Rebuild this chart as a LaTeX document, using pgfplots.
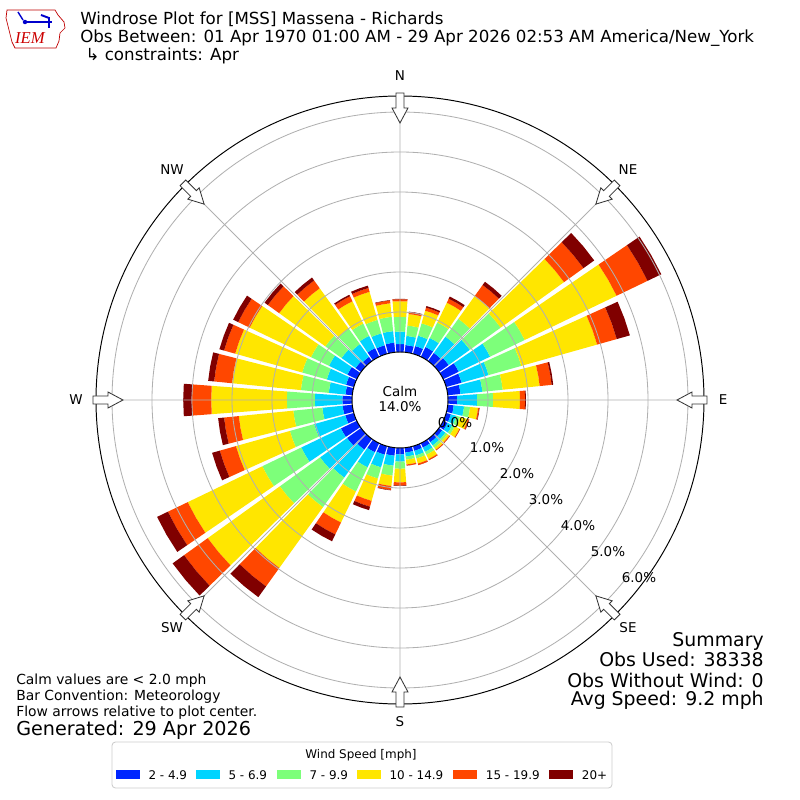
\documentclass[border=0pt]{standalone}
\usepackage{pgfplots}
\pgfplotsset{compat=1.18}
\usepgfplotslibrary{polar}
\usepackage{fontspec}
\setmainfont{DejaVu Sans}
\newfontfamily\logofont{Liberation Serif}
\definecolor{c1}{RGB}{0,38,255}
\definecolor{c2}{RGB}{0,212,255}
\definecolor{c3}{RGB}{125,255,122}
\definecolor{c4}{RGB}{255,230,0}
\definecolor{c5}{RGB}{255,71,0}
\definecolor{c6}{RGB}{128,0,0}
\definecolor{gridgray}{RGB}{176,176,176}
\newcommand\windseg[4]{%
  \pgfmathsetmacro\aA{90-#1+4.3}%
  \pgfmathsetmacro\aM{90-#1}%
  \pgfmathsetmacro\aB{90-#1-4.3}%
  \pgfmathsetmacro\rA{#2+1.2}%
  \pgfmathsetmacro\rB{#3+1.2}%
  \edef\windtmp{\noexpand\addplot[fill=#4,draw=none,forget plot] coordinates {(\aA,\rA) (\aM,\rA) (\aB,\rA) (\aB,\rB) (\aM,\rB) (\aA,\rB)};}%
  \windtmp}
\newcommand\windbar[7]{%
  \windseg{#1}{0}{#2}{c1}%
  \windseg{#1}{#2}{#3}{c2}%
  \windseg{#1}{#3}{#4}{c3}%
  \windseg{#1}{#4}{#5}{c4}%
  \windseg{#1}{#5}{#6}{c5}%
  \windseg{#1}{#6}{#7}{c6}}
\begin{document}
\begin{tikzpicture}
\useasboundingbox (0,0) rectangle (576pt,576pt);
\begin{polaraxis}[
  at={(288pt,288pt)}, anchor=center,
  scale only axis, width=437.76pt, height=437.76pt,
  ymin=0, ymax=7.6,
  xtick={0,45,...,315}, xticklabels={},
  ytick={2.2,3.2,4.2,5.2,6.2,7.2}, yticklabels={},
  grid=major,
  major grid style={draw=gridgray, line width=0.6pt},
  x axis line style={black, line width=0.7pt},
  y axis line style={draw=none},
  tick style={draw=none},
  axis on top,
]
% dir, cumulative % : 2-4.9, 5-6.9, 7-9.9, 10-14.9, 15-19.9, 20+
\windbar{0}{0.20}{0.51}{0.88}{1.27}{1.32}{1.33}
\windbar{10}{0.18}{0.41}{0.67}{0.96}{1.01}{1.02}
\windbar{20}{0.20}{0.47}{0.79}{1.12}{1.20}{1.24}
\windbar{30}{0.27}{0.52}{0.95}{1.50}{1.61}{1.67}
\windbar{40}{0.25}{0.75}{1.30}{2.00}{2.34}{2.44}
\windbar{50}{0.30}{0.95}{1.90}{3.85}{4.45}{4.78}
\windbar{60}{0.43}{1.30}{2.26}{4.81}{5.67}{6.05}
\windbar{70}{0.40}{1.10}{1.95}{3.92}{4.43}{4.77}
\windbar{80}{0.32}{0.87}{1.38}{2.31}{2.61}{2.65}
\windbar{90}{0.23}{0.73}{1.13}{1.80}{1.93}{1.95}
\windbar{100}{0.15}{0.41}{0.56}{0.76}{0.79}{0.80}
\windbar{110}{0.12}{0.26}{0.36}{0.56}{0.59}{0.60}
\windbar{120}{0.12}{0.25}{0.32}{0.45}{0.47}{0.47}
\windbar{130}{0.10}{0.20}{0.26}{0.32}{0.34}{0.34}
\windbar{140}{0.10}{0.20}{0.27}{0.33}{0.35}{0.35}
\windbar{150}{0.12}{0.24}{0.32}{0.44}{0.47}{0.47}
\windbar{160}{0.12}{0.24}{0.32}{0.45}{0.49}{0.49}
\windbar{170}{0.12}{0.22}{0.30}{0.42}{0.45}{0.45}
\windbar{180}{0.16}{0.34}{0.52}{0.86}{0.94}{0.95}
\windbar{190}{0.20}{0.45}{0.70}{0.96}{1.06}{1.07}
\windbar{200}{0.22}{0.55}{0.84}{1.42}{1.57}{1.66}
\windbar{210}{0.25}{0.67}{1.34}{2.20}{2.53}{2.72}
\windbar{220}{0.33}{1.19}{2.10}{3.97}{4.54}{4.87}
\windbar{230}{0.43}{1.26}{2.50}{4.72}{5.45}{5.80}
\windbar{240}{0.44}{1.54}{2.62}{4.69}{5.24}{5.54}
\windbar{250}{0.22}{1.03}{1.66}{3.06}{3.48}{3.68}
\windbar{260}{0.24}{0.75}{1.48}{2.85}{3.22}{3.37}
\windbar{270}{0.24}{0.93}{1.63}{3.52}{4.01}{4.22}
\windbar{280}{0.17}{0.59}{1.29}{3.02}{3.47}{3.62}
\windbar{290}{0.20}{0.70}{1.34}{3.08}{3.37}{3.49}
\windbar{300}{0.26}{0.77}{1.27}{2.97}{3.29}{3.43}
\windbar{310}{0.17}{0.60}{1.10}{2.52}{2.87}{2.97}
\windbar{320}{0.13}{0.52}{1.00}{2.24}{2.48}{2.57}
\windbar{330}{0.24}{0.58}{0.92}{1.54}{1.68}{1.72}
\windbar{340}{0.22}{0.53}{0.88}{1.61}{1.71}{1.77}
\windbar{350}{0.24}{0.53}{0.89}{1.23}{1.30}{1.31}
\end{polaraxis}
% direction arrows
\foreach \t in {0,45,...,315}{
  \begin{scope}[shift={(288pt,288pt)}, rotate=-\t, x=0.72pt, y=0.72pt]
    \draw[fill=white, draw=black!80, line width=0.6pt]
      (-4,307) -- (4,307) -- (4,292) -- (8,292) -- (0,277) -- (-8,292) -- (-4,292) -- cycle;
  \end{scope}
}
\begin{scope}[x=0.72pt,y=-0.72pt,yshift=576pt]
  % calm circle
  \draw[black, line width=0.7pt, fill=white] (400,400) circle[radius=34.56pt];
  \node[font=\fontsize{9.7}{12}\selectfont] at (400,391) {Calm};
  \node[font=\fontsize{9.7}{12}\selectfont] at (400,407) {14.0\%};
  % radial labels
  \foreach \p/\xx/\yy in {0/455/423,1/487/448,2/517/474,3/546/500,4/578/526,5/608/552,6/639/578}{
    \node[font=\fontsize{9.7}{12}\selectfont] at (\xx,\yy) {\p.0\%};
  }
  % compass labels
  \foreach \lab/\xx/\yy in {N/400/76,NE/628/170,E/723/400,SE/628/628,S/400/722,SW/172/628,W/76/400,NW/172/170}{
    \node[font=\fontsize{9.7}{12}\selectfont] at (\xx,\yy) {\lab};
  }
  % logo
  \draw[red!75!black, line width=0.5pt] (7,10) -- (55,10) -- (58,15) -- (64,22) -- (65,28) -- (60,33) -- (59,41) -- (56,48) -- (15,48) -- (12,42) -- (9,30) -- (6,18) -- cycle;
  \draw[blue!80!black, line width=1.2pt] (23,22) -- (52,22);
  \draw[blue!80!black, line width=1pt] (18,12) -- (23,20);
  \draw[blue!80!black, line width=1.4pt] (41,15) -- (49,18) -- (49,28);
  \fill[blue!80!black] (25,22) circle[radius=1.6pt];
  \node[font=\logofont\itshape\fontsize{12}{14}\selectfont, text=red!80!black] at (30,38) {IEM};
  % titles
  \begin{scope}[every node/.style={inner sep=0pt}]
  \node[anchor=base west, font=\fontsize{12}{14}\selectfont] at (80,25) {Windrose Plot for [MSS] Massena - Richards};
  \node[anchor=base west, font=\fontsize{12}{14}\selectfont] at (80,43) {Obs Between: 01 Apr 1970 01:00 AM - 29 Apr 2026 02:53 AM America/New\_York};
  \node[anchor=base west, font=\fontsize{12}{14}\selectfont] at (80,61) {\ ↳ constraints: Apr};
  % bottom-left notes
  \node[anchor=base west, font=\fontsize{10}{12}\selectfont] at (16,685) {Calm values are < 2.0 mph};
  \node[anchor=base west, font=\fontsize{10}{12}\selectfont] at (16,701) {Bar Convention: Meteorology};
  \node[anchor=base west, font=\fontsize{10}{12}\selectfont] at (16,717) {Flow arrows relative to plot center.};
  \node[anchor=base west, font=\fontsize{13.8}{16}\selectfont] at (16,736) {Generated: 29 Apr 2026};
  % summary
  \node[anchor=base east, font=\fontsize{13.6}{16}\selectfont] at (764,647) {Summary};
  \node[anchor=base east, font=\fontsize{13.6}{16}\selectfont] at (764,667) {Obs Used: 38338};
  \node[anchor=base east, font=\fontsize{13.6}{16}\selectfont] at (764,687) {Obs Without Wind: 0};
  \node[anchor=base east, font=\fontsize{13.6}{16}\selectfont] at (764,705) {Avg Speed: 9.2 mph};
  \end{scope}
  % legend
  \draw[draw=black!20, fill=white, rounded corners=2.5pt, line width=0.6pt] (112,742) rectangle (612,788);
  \node[anchor=base, inner sep=0pt, font=\fontsize{8.6}{10}\selectfont] at (361,758) {Wind Speed [mph]};
  \foreach \c/\xa/\xt/\lab in {c1/116/148.3/{2 - 4.9},c2/196/228.3/{5 - 6.9},c3/277/309.3/{7 - 9.9},c4/357/389.3/{10 - 14.9},c5/453/485.7/{15 - 19.9},c6/549/581.7/{20+}}{
    \fill[\c] (\xa,770) rectangle ++(24,8.5);
    \node[anchor=base west, inner sep=0pt, font=\fontsize{8.6}{10}\selectfont] at (\xt,779) {\lab};
  }
\end{scope}
\end{tikzpicture}
\end{document}
